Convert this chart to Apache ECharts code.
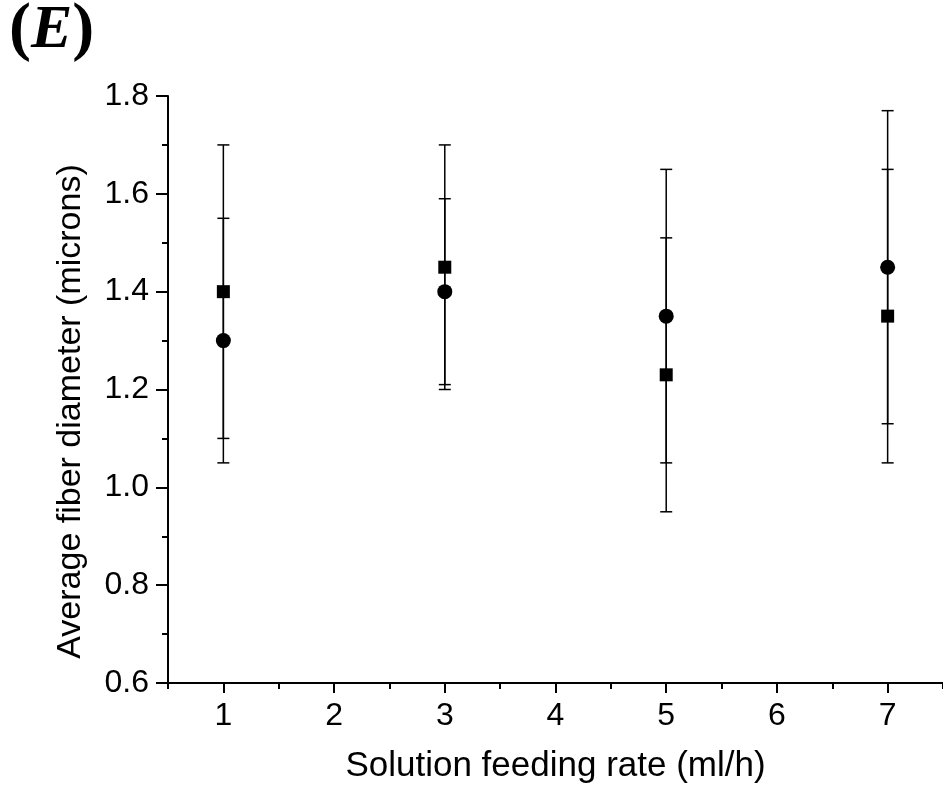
<!DOCTYPE html>
<html>
<head>
<meta charset="utf-8">
<script src="https://cdn.jsdelivr.net/npm/echarts@6/dist/echarts.min.js"></script>
<style>
html,body{margin:0;padding:0;background:#fff;}
#chart{width:943px;height:792px;}
</style>
</head>
<body>
<div id="chart"></div>
<script>
// Data
const feedRates = [1, 3, 5, 7];
const squareMean = [1.40, 1.45, 1.23, 1.35];
const squareErr = [0.30, 0.25, 0.28, 0.30];
const circleMean = [1.30, 1.40, 1.35, 1.45];
const circleErr = [0.25, 0.19, 0.30, 0.32];
const xMajorTicks = [1, 2, 3, 4, 5, 6, 7];
const xMinorTicks = [0.5, 1.5, 2.5, 3.5, 4.5, 5.5, 6.5, 7.5];
const xTitle = 'Solution feeding rate (ml/h)';
const yTitle = 'Average fiber diameter (microns)';
const panelLabel = 'E';

const FONT = '"Liberation Sans", Arial, sans-serif';

function errData(means, errs) {
  return feedRates.map((x, i) => [x, means[i] - errs[i], means[i] + errs[i]]);
}
function pts(means) {
  return feedRates.map((x, i) => [x, means[i]]);
}
function errRender(params, api) {
  const x = api.value(0);
  const lo = api.coord([x, api.value(1)]);
  const hi = api.coord([x, api.value(2)]);
  const cw = 6;
  const style = { stroke: '#000', lineWidth: 1.5 };
  return {
    type: 'group',
    children: [
      { type: 'line', shape: { x1: hi[0], y1: hi[1], x2: lo[0], y2: lo[1] }, style },
      { type: 'line', shape: { x1: hi[0] - cw, y1: hi[1], x2: hi[0] + cw, y2: hi[1] }, style },
      { type: 'line', shape: { x1: lo[0] - cw, y1: lo[1], x2: lo[0] + cw, y2: lo[1] }, style }
    ]
  };
}

const chart = echarts.init(document.getElementById('chart'), null, { renderer: 'canvas' });
chart.setOption({
  backgroundColor: '#fff',
  animation: false,
  grid: { left: 168, top: 96, right: 0, bottom: 109, containLabel: false },
  graphic: [{
    type: 'text', left: 9, top: -2,
    style: {
      text: '{p|(}{e|' + panelLabel + '}{p|)}',
      rich: {
        p: { fontFamily: '"Liberation Serif", "Times New Roman", serif', fontWeight: 'bold', fontSize: 66, fill: '#000' },
        e: { fontFamily: '"Liberation Serif", "Times New Roman", serif', fontWeight: 'bold', fontStyle: 'italic', fontSize: 62, fill: '#000' }
      }
    }
  }],
  xAxis: [{
    type: 'value', min: 0.5, max: 7.5, position: 'bottom',
    name: xTitle, nameLocation: 'middle', nameGap: 66,
    nameTextStyle: { fontFamily: FONT, fontSize: 35, color: '#000' },
    axisLine: { onZero: false, lineStyle: { color: '#000', width: 2 } },
    axisTick: { show: true, inside: false, length: 10, customValues: xMajorTicks, lineStyle: { color: '#000', width: 2 } },
    axisLabel: { show: true, customValues: xMajorTicks, margin: 17, fontFamily: FONT, fontSize: 32, color: '#000' },
    splitLine: { show: false }
  }, {
    type: 'value', min: 0.5, max: 7.5, position: 'bottom',
    axisLine: { show: false },
    axisTick: { show: true, inside: false, length: 6, customValues: xMinorTicks, lineStyle: { color: '#000', width: 2 } },
    axisLabel: { show: false },
    splitLine: { show: false }
  }],
  yAxis: {
    type: 'value', min: 0.6, max: 1.8, interval: 0.2,
    name: yTitle, nameLocation: 'middle', nameGap: 80,
    nameTextStyle: { fontFamily: FONT, fontSize: 34, color: '#000', padding: [0, 44, 0, 0] },
    axisLine: { show: true, onZero: false, lineStyle: { color: '#000', width: 2 } },
    axisTick: { show: true, inside: false, length: 12, lineStyle: { color: '#000', width: 2 } },
    minorTick: { show: true, splitNumber: 2, length: 6, lineStyle: { color: '#000', width: 2 } },
    axisLabel: { margin: 19, fontFamily: FONT, fontSize: 32, color: '#000', formatter: v => v.toFixed(1) },
    splitLine: { show: false }
  },
  series: [
    { type: 'custom', name: 'sqErr', xAxisIndex: 0, data: errData(squareMean, squareErr), renderItem: errRender, encode: { x: 0, y: [1, 2] }, z: 1 },
    { type: 'custom', name: 'ciErr', xAxisIndex: 0, data: errData(circleMean, circleErr), renderItem: errRender, encode: { x: 0, y: [1, 2] }, z: 1 },
    { type: 'scatter', name: 'square', xAxisIndex: 0, data: pts(squareMean), symbol: 'rect', symbolSize: 13, itemStyle: { color: '#000', opacity: 1 }, z: 3 },
    { type: 'scatter', name: 'circle', xAxisIndex: 0, data: pts(circleMean), symbol: 'circle', symbolSize: 15, itemStyle: { color: '#000', opacity: 1 }, z: 3 }
  ]
});
</script>
</body>
</html>
